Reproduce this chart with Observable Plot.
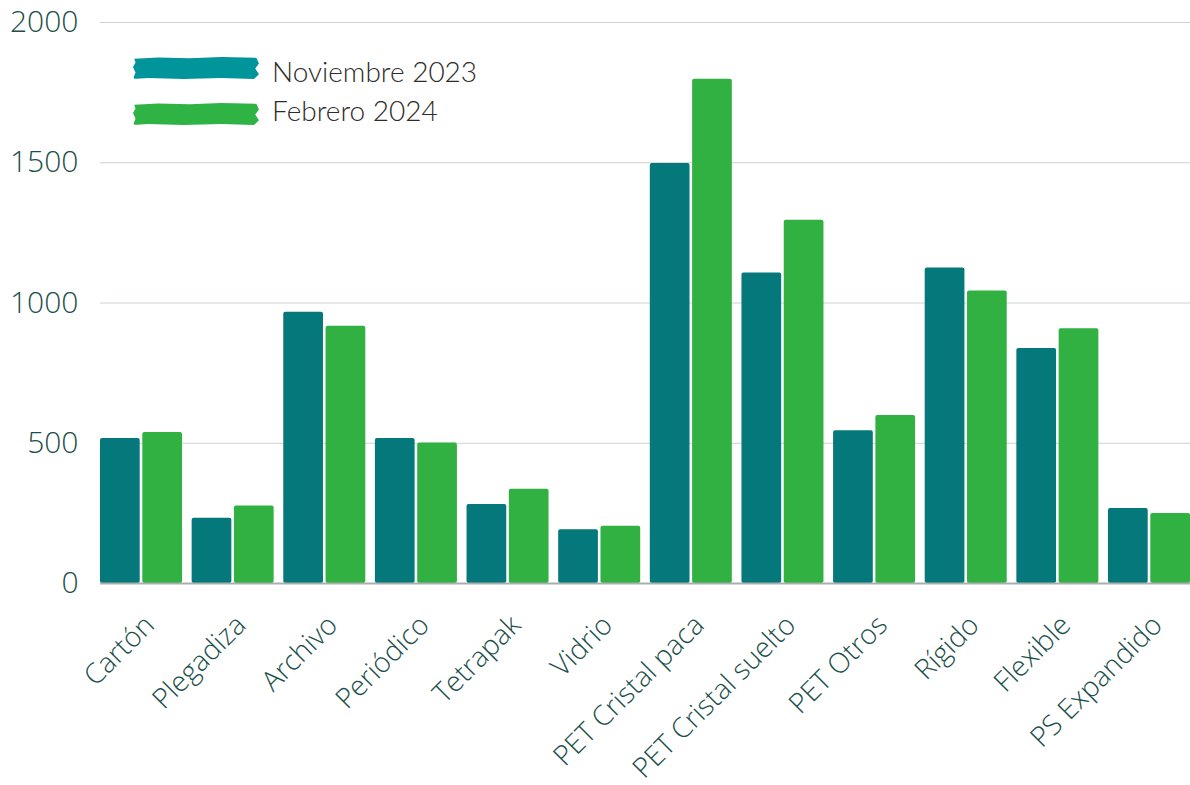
<!DOCTYPE html>
<html>
<head>
<meta charset="utf-8">
<script src="https://cdn.jsdelivr.net/npm/d3@7"></script>
<script src="https://cdn.jsdelivr.net/npm/@observablehq/plot@0.6"></script>
<style>
  html, body { margin: 0; padding: 0; background: #fff; overflow: hidden; }
  #wrap { position: relative; width: 1190px; height: 785px; }
  #legend { position: absolute; left: 0; top: 0; font-family: Lato, "Open Sans", sans-serif; font-size: 28px; font-weight: 300; color: #2d2b26; }
  .sw { position: absolute; left: 133px; width: 126px; height: 22px;
        clip-path: polygon(1% 8%, 20% 2%, 45% 6%, 70% 0%, 98% 4%, 100% 30%, 97% 52%, 100% 78%, 96% 100%, 70% 95%, 40% 100%, 12% 96%, 0% 100%, 2% 70%, 0% 45%, 2% 25%);
        border-radius: 3px; }
  .lt { position: absolute; left: 272px; white-space: nowrap; line-height: 1; }
</style>
</head>
<body>
<div id="wrap"><div id="legend"></div></div>
<script>
const categories = ["Cartón","Plegadiza","Archivo","Periódico","Tetrapak","Vidrio","PET Cristal paca","PET Cristal suelto","PET Otros","Rígido","Flexible","PS Expandido"];
const seriesNames = ["Noviembre 2023","Febrero 2024"];
const nov2023 = [517, 233, 967, 517, 282, 192, 1497, 1107, 545, 1125, 838, 267];
const feb2024 = [538, 276, 917, 501, 336, 204, 1798, 1295, 599, 1043, 908, 250];
const yTicks = [0, 500, 1000, 1500, 2000];
const barColors = ["#05787b", "#31b141"];
const legendColors = ["#00959a", "#2fb344"];

const novData = categories.map((c, i) => ({category: c, series: seriesNames[0], value: nov2023[i]}));
const febData = categories.map((c, i) => ({category: c, series: seriesNames[1], value: feb2024[i]}));

const axisColor = "#1b4f4b";
const chart = Plot.plot({
  width: 1190,
  height: 785,
  marginTop: 22,
  marginBottom: 202,
  marginLeft: 100,
  marginRight: 0,
  style: {fontFamily: "'Open Sans', sans-serif", background: "transparent", overflow: "visible"},
  x: {domain: categories, paddingInner: 0.105, paddingOuter: 0, round: false, label: null},
  y: {domain: [0, 2000], label: null},
  marks: [
    Plot.gridY(yTicks, {stroke: "#ccd3d2", strokeOpacity: 1, strokeWidth: 1}),
    Plot.barY(novData, {x: "category", y: "value", fill: barColors[0], insetRight: 42.3, rx: 2}),
    Plot.barY(febData, {x: "category", y: "value", fill: barColors[1], insetLeft: 42.3, rx: 2}),
    Plot.ruleY([0], {stroke: "#a8afae", strokeWidth: 2}),
    Plot.axisY(yTicks, {tickSize: 0, tickPadding: 22, fontSize: 30, fontWeight: 300, fill: axisColor, label: null, tickFormat: d => String(d)}),
    Plot.axisX({anchor: "bottom", tickSize: 0, tickRotate: -45, tickPadding: 37, dx: 8, fontSize: 28, fontWeight: 300, fill: axisColor, label: null})
  ]
});
document.getElementById("wrap").prepend(chart);

const legend = document.getElementById("legend");
const swTops = [57, 103];
const textTops = [57, 96];
seriesNames.forEach((s, i) => {
  const sw = document.createElement("div");
  sw.className = "sw";
  sw.style.top = swTops[i] + "px";
  sw.style.background = legendColors[i];
  const t = document.createElement("div");
  t.className = "lt";
  t.style.top = textTops[i] + "px";
  t.textContent = s;
  legend.append(sw, t);
});
</script>
</body>
</html>
